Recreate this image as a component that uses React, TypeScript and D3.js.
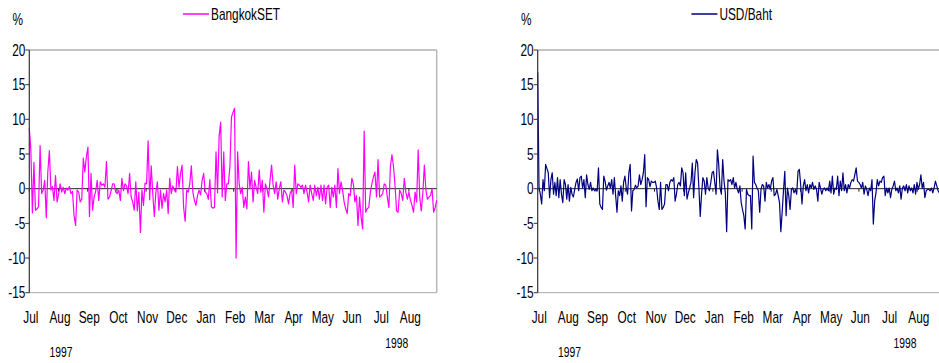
import React from "react";
import * as d3 from "d3";

const monthLabels = ["Jul", "Aug", "Sep", "Oct", "Nov", "Dec", "Jan", "Feb", "Mar", "Apr", "May", "Jun", "Jul", "Aug"];
const yTickValues = [20, 15, 10, 5, 0, -5, -10, -15];
const yearLabels = ["1997", "1998"];

const setValues = [
  8.7, 5.6, -3.5, 3.8, -3.1, -2.9, -2.6, 6.2, -0.7, -0.2,
  1.2, -4.2, 2.4, 5.5, -0.2, 0.3, -1.7, 1.9, -1.9, -0.8,
  0.7, -0.5, 0.2, -0.7, 0.1, -0.2, 0.3, -0.7, -0.4, -3.9,
  -5.3, -0.2, -0.5, -1.9, -1.5, 4.4, 2.4, 4.6, 6.0, -4.0,
  2.2, -3.1, -1.2, -0.4, 1.2, -1.7, 1.0, 0.5, 0.7, 0.2,
  3.9, -1.5, -1.2, -0.3, 0.7, 0.7, -0.5, -0.7, -0.2, -1.7,
  1.5, -0.3, 0.7, 0.4, -0.7, 2.2, -1.2, -1.9, -3.1, 1.0,
  -3.2, -0.5, -6.3, -0.2, -2.4, 0.8, 0.7, 6.9, -1.6, 3.3,
  -0.7, -4.0, -0.6, 1.0, -3.1, -0.2, -2.8, -0.7, -1.9, -0.2,
  -3.6, 1.5, -0.7, 0.4, -0.2, -0.5, 3.2, 0.2, 2.2, 3.4,
  -2.7, -4.7, -0.2, -0.5, 0.7, 3.3, -0.5, -1.7, -2.4, -1.0,
  -0.2, -0.9, 1.2, 2.2, -0.5, -0.7, -1.5, 1.3, -2.6, -2.8,
  -2.7, 5.3, -0.6, 7.5, 9.6, -1.2, 5.3, -1.7, 0.7, 0.7,
  3.2, 10.3, 11.0, 11.6, -10.0,
  5.3, 0.7, -0.7, 0.2, -2.7, -1.2, -2.9, 3.9, 0.0, 2.4,
  -1.9, 1.2, 0.2, -0.7, 2.7, -0.5, 1.2, -3.4, 0.7, 0.0,
  -1.2, 1.2, 3.4, 0.5, -0.7, 1.0, -1.5, 0.0, 1.0, -1.9,
  -0.2, -0.5, -1.0, -2.2, -0.7, -0.2, -2.7, 3.4, -0.7, 0.7,
  0.5, 0.2, 0.5, -0.7, 0.5, -0.5, -1.9, 0.5, -0.7, -1.7,
  0.5, -1.0, 0.2, -1.5, 0.5, -1.7, 0.5, -2.2, 0.2, 0.5,
  -2.7, 0.2, -1.2, 0.5, -2.7, 2.9, -0.7, 1.0, -0.2, -1.9,
  -2.9, -3.6, -0.7, -1.0, 1.5, 0.7, -1.9, -1.0, -5.3, -1.2,
  -4.1, -5.8, 8.3, -3.4, -2.9, -2.7, -0.5, 0.7, 1.7, 2.4,
  -1.2, 4.2, -1.2, -1.0, -0.7, 0.7, 0.5, -1.2, -2.7, 3.2,
  4.9, 3.2, 0.5, -3.2, -3.4, -0.2, -0.7, -1.7, 1.5, -0.5,
  -1.5, -0.5, -1.7, -2.4, -3.4, -0.5, -1.9, 5.6, -1.2, -3.2,
  -0.7, 3.4, -0.2, -1.5, -1.2, -1.0, 0.0, -3.4, -2.7, -1.7,
];

const bahtValues = [
  16.8, 0.1, -0.8, -2.2, 1.3, -0.3, 3.5, 2.9, 2.3, -1.3,
  1.3, 2.3, -0.8, 0.9, -1.0, 1.6, -1.3, 1.3, -0.8, -2.0,
  1.3, 0.6, -1.5, 0.6, -1.8, 0.2, -0.8, -1.2, -0.1, 0.9,
  1.4, -0.3, 1.6, 1.8, 0.1, 1.3, -1.3, 2.0, 0.6, -0.1,
  0.9, -0.3, 0.1, -0.3, -0.1, -0.3, 3.0, -2.2, -2.7, -3.0,
  1.8, 1.1, -0.2, 0.4, 0.9, 0.1, 1.3, -0.8, 1.6, -1.0,
  -3.4, -0.3, -1.0, 0.4, -1.8, 0.9, 1.8, 0.1, -0.8, 2.3,
  3.5, -3.2, -0.3, -0.1, 0.5, 0.1, 0.4, 2.0, 0.6, 1.3,
  2.3, 4.9, -2.6, 1.6, 1.3, 0.3, 1.1, 0.9, 0.9, 1.1,
  0.1, -1.8, -3.0, 0.9, -3.0, -2.7, -2.2, 0.6, 0.6, -0.3,
  0.9, 1.3, 1.1, 1.6, -1.8, -0.8, 0.6, 0.9, 0.4, 3.0,
  2.3, -1.0, 2.3, -1.5, -0.6, 0.1, 0.9, 3.7, -1.3, 2.3,
  4.2, 3.7, 0.1, -4.0, -0.8, 1.6, 1.1, -0.8, 1.6, 0.1,
  -0.3, 0.9, 2.3, 2.5, 0.9, -0.8, 5.6, 3.5, 0.1, -0.8,
  4.2, 1.1, -0.6, -6.2, 1.3, 1.1, 1.3, 0.6, 1.6, 0.1,
  0.9, -0.1, -0.6, 0.4, -2.0, -3.0, -3.9, -5.8, -0.1, -0.8,
  -1.0, -1.0, -5.8, 4.7, 0.9, 0.6, 0.1, -0.3, -3.4, -0.1,
  0.6, 0.4, -1.8, 0.9, 0.1, 0.6, -0.1, 1.1, 1.6, -1.0,
  -0.8, -0.1, -1.0, -2.0, -6.2, -3.4, -0.3, 2.5, -3.9, 0.1,
  -1.0, -3.0, -0.1, 0.1, -0.6, -0.1, -0.8, 2.5, 2.8, 0.6,
  -2.2, 0.4, 1.3, -0.3, 0.6, -0.6, 0.6, 0.1, 0.9, -0.1,
  0.4, -0.1, -1.8, 0.9, 0.1, -0.8, -0.1, 0.1, -0.3, 0.1,
  -0.3, 1.1, -0.6, 1.8, -0.8, 0.1, -0.1, 1.8, -1.0, 1.1,
  -0.3, 2.3, -0.3, 0.6, -0.6, 0.6, 0.1, 0.9, 1.3, 1.1,
  2.0, 3.0, 1.1, 0.9, 0.6, 0.1, 0.9, -0.8, 0.4, -0.1,
  -1.0, 0.1, -0.3, 1.3, -5.1, -1.8, -0.6, 1.3, 0.4, 1.1,
  0.9, 1.6, 1.8, -1.0, 0.1, -0.6, 0.1, -1.3, -0.1, 0.4,
  1.1, -0.3, 0.1, -0.6, 0.4, -1.5, 0.1, 0.4, -0.3, 0.6,
  -0.6, 0.4, -0.3, 0.1, -0.6, 0.6, -0.8, 0.9, -0.1, 0.6,
  2.0, 0.1, 0.9, -1.3, -0.3, -0.1, -0.1, -0.3, 0.1, -0.6,
  0.1, 1.1, 0.4, -0.3, -0.6,
];

const FONT = "'Liberation Sans', Arial, sans-serif";
const SX = 0.74;

function CText(props: { x: number; y: number; anchor?: string; size?: number; children: React.ReactNode }) {
  const { x, y, anchor = "start", size = 16, children } = props;
  return (
    <text
      transform={`translate(${x},${y}) scale(${SX},1)`}
      textAnchor={anchor}
      fontFamily={FONT}
      fontSize={size}
      fill="#000"
    >
      {children}
    </text>
  );
}

function Panel(props: { ox: number; values: number[]; color: string; label: string; dataEnd: number }) {
  const { ox, values, color, label, dataEnd } = props;
  const left = 29.3 + ox;
  const right = 436.7 + ox;
  const top = 50;
  const bottom = 292.7;
  const y = d3.scaleLinear().domain([-15, 20]).range([bottom, top]);
  const x = d3.scaleLinear().domain([0, values.length - 1]).range([left, dataEnd + ox]);
  const m = d3
    .scalePoint<string>()
    .domain(monthLabels.map((_, i) => String(i)))
    .range([left, left + 13 * 29.2]);
  const line = d3
    .line<number>()
    .x((_, i) => x(i))
    .y((d) => y(d));
  const y0 = y(0);
  return (
    <g>
      {/* frame */}
      <line x1={left} x2={right} y1={top} y2={top} stroke="#8a8a8a" strokeWidth={1} />
      <line x1={right} x2={right} y1={top} y2={bottom} stroke="#b8b8b8" strokeWidth={1.5} />
      <line x1={left} x2={right} y1={bottom} y2={bottom} stroke="#a8a8a8" strokeWidth={1} />
      {/* zero line + month ticks */}
      <line x1={left} x2={right} y1={y0} y2={y0} stroke="#222" strokeWidth={1} />
      {monthLabels.map((_, i) => (
        <line key={"mt" + i} x1={m(String(i))} x2={m(String(i))} y1={y0} y2={y0 + 3} stroke="#222" strokeWidth={1} />
      ))}
      {/* data */}
      <path d={line(values) || ""} fill="none" stroke={color} strokeWidth={1.2} strokeLinejoin="round" />
      {/* y axis */}
      <line x1={left} x2={left} y1={top} y2={bottom} stroke="#333" strokeWidth={1.2} />
      {yTickValues.map((v) => (
        <g key={"yt" + v}>
          <line x1={left - 4} x2={left} y1={y(v)} y2={y(v)} stroke="#333" strokeWidth={1} />
          <CText x={left - 4} y={y(v) + 5.5} anchor="end">
            {String(v)}
          </CText>
        </g>
      ))}
      <CText x={ox + 12.5} y={25}>%</CText>
      {/* legend */}
      <line x1={ox + 183} x2={ox + 209} y1={14} y2={14} stroke={color} strokeWidth={1.5} />
      <CText x={ox + 211} y={20}>{label}</CText>
      {/* month labels */}
      {monthLabels.map((lab, i) => (
        <CText key={"ml" + i} x={(m(String(i)) as number) + 1.5} y={323} anchor="middle">
          {lab}
        </CText>
      ))}
      <CText x={(m("1") as number) + 2.5} y={357} anchor="middle" size={14}>
        {yearLabels[0]}
      </CText>
      <CText x={(m("12") as number) + 17} y={348} anchor="middle" size={14}>
        {yearLabels[1]}
      </CText>
    </g>
  );
}

export default function App() {
  return (
    <svg
      width={939}
      height={363}
      style={{ position: "absolute", left: 0, top: 0, background: "#fff" }}
    >
      <rect x={0} y={0} width={939} height={363} fill="#fff" />
      <Panel ox={0} values={setValues} color="#ff00ff" label="BangkokSET" dataEnd={436.7} />
      <Panel ox={508.4} values={bahtValues} color="#000080" label="USD/Baht" dataEnd={431} />
    </svg>
  );
}
